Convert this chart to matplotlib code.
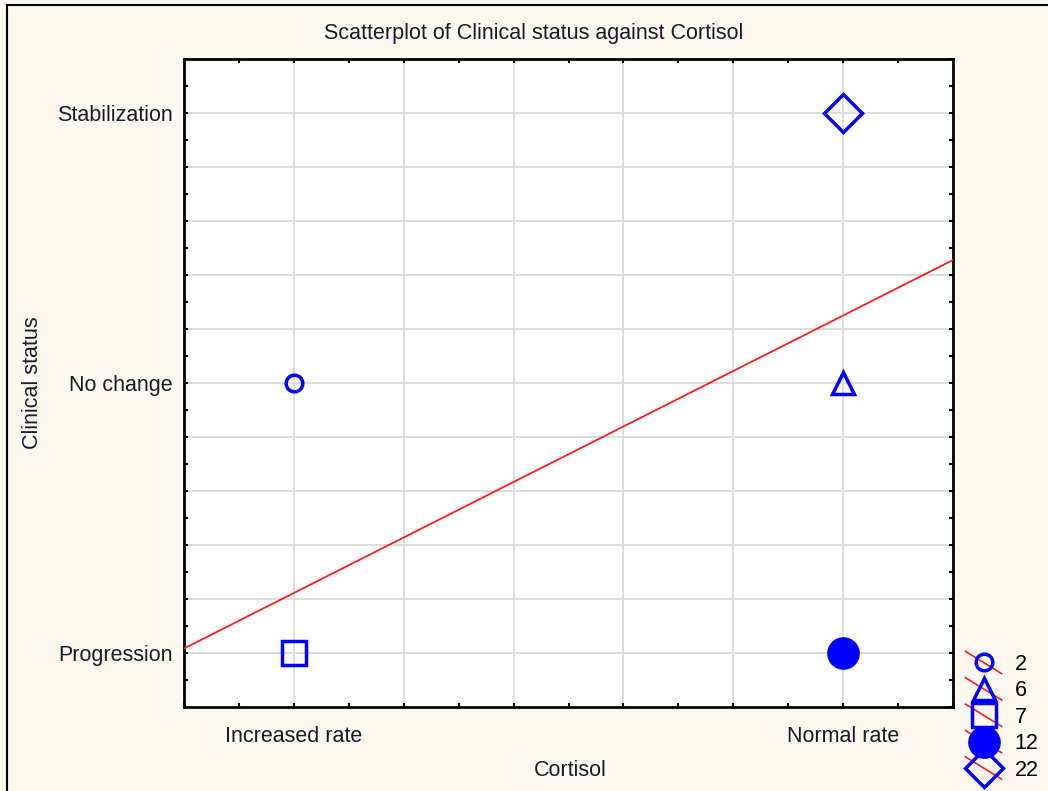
import numpy as np
import matplotlib
matplotlib.use('Agg')
import matplotlib.pyplot as plt
from matplotlib.lines import Line2D
from matplotlib.legend_handler import HandlerBase
from matplotlib.ticker import MultipleLocator

# categories
cortisol_labels = ['Increased rate', 'Normal rate']
status_labels = ['Progression', 'No change', 'Stabilization']

# observed combinations (cortisol index, clinical status level) and their counts
point_x = [0, 1, 0, 1, 1]
point_y = [2, 2, 1, 1, 3]
counts = [2, 6, 7, 12, 22]

# marker styles per point
markers = ['o', '^', 's', 'o', 'D']
sizes = [12, 16.5, 17, 21, 19.5]
filled = [False, False, False, True, False]

BLUE = '#0000FF'
RED = '#F52020'
BG = '#FDF9F1'
FS = 15.5


class SlashHandler(HandlerBase):
    """Statistica-style legend key: marker with a red slash through it."""
    def create_artists(self, legend, orig_handle, xdescent, ydescent,
                       width, height, fontsize, trans):
        cx = width / 2 - xdescent
        cy = height / 2 - ydescent
        slash = Line2D([cx - 13, cx + 13], [cy + 8, cy - 8], color=RED, lw=1.2,
                       transform=trans)
        mk = Line2D([cx], [cy], marker=orig_handle.get_marker(),
                    markersize=orig_handle.get_markersize(),
                    markerfacecolor=orig_handle.get_markerfacecolor(),
                    markeredgecolor=BLUE, markeredgewidth=2.5, linestyle='none',
                    transform=trans)
        return [slash, mk]


def make_plot():
    plt.rcParams['font.family'] = ['Liberation Sans', 'DejaVu Sans']

    fig = plt.figure(figsize=(10.48, 7.91), dpi=100)
    fig.patch.set_facecolor(BG)
    ax = fig.add_axes([184 / 1048, 1 - 707 / 791, 769 / 1048, 648 / 791])
    ax.set_facecolor('white')

    # --- points ---
    handles = []
    for x, y, m, s, f in zip(point_x, point_y, markers, sizes, filled):
        h, = ax.plot([x], [y], marker=m, markersize=s, linestyle='none',
                     markerfacecolor=BLUE if f else 'none',
                     markeredgecolor=BLUE, markeredgewidth=2.5, zorder=4)
        handles.append(h)

    # --- weighted linear fit ---
    xs = np.repeat(point_x, counts)
    ys = np.repeat(point_y, counts)
    slope, intercept = np.polyfit(xs, ys, 1)
    xl = np.array([-0.2, 1.2])
    ax.plot(xl, intercept + slope * xl, color=RED, lw=1.3, zorder=3)

    ax.set_xlim(-0.2, 1.2)
    ax.set_ylim(0.8, 3.2)
    ax.set_xticks([0, 1])
    ax.set_xticklabels(cortisol_labels, fontsize=FS)
    ax.set_yticks([1, 2, 3])
    ax.set_yticklabels(status_labels, fontsize=FS)

    # grid every 0.2, small inside ticks every 0.1
    for v in np.arange(0.0, 1.01, 0.2):
        ax.axvline(v, color='#DADADA', lw=1.3, zorder=1)
    for v in np.arange(1.0, 3.01, 0.2):
        ax.axhline(v, color='#DADADA', lw=1.3, zorder=1)
    ax.xaxis.set_minor_locator(MultipleLocator(0.1))
    ax.yaxis.set_minor_locator(MultipleLocator(0.1))
    ax.tick_params(which='both', direction='in', top=True, right=True,
                   length=3, width=1.5, color='black')
    ax.tick_params(which='major', labelcolor='#1a1a2a')
    ax.tick_params(axis='x', which='major', pad=14)
    ax.tick_params(axis='y', which='major', pad=8)

    for sp in ax.spines.values():
        sp.set_linewidth(2)
        sp.set_color('black')

    ax.set_xlabel('Cortisol', fontsize=FS, va='center', color='#1a1a2a')
    ax.xaxis.set_label_coords(0.502, (707 - 770) / 648)
    ax.set_ylabel('Clinical status', fontsize=FS, va='center', color='#1a1a2a')
    ax.yaxis.set_label_coords((33 - 184) / 769, 0.5)
    fig.text(534 / 1048, 1 - 33 / 791, 'Scatterplot of Clinical status against Cortisol',
             ha='center', va='center', fontsize=FS, color='#1a1a2a')

    # --- legend with counts ---
    ax.legend(handles, [str(c) for c in counts], handler_map={Line2D: SlashHandler()},
              loc='upper left', bbox_to_anchor=(962 / 1048, 1 - 654 / 791),
              bbox_transform=fig.transFigure, frameon=False, fontsize=FS,
              handlelength=2.0, handletextpad=0.45, labelspacing=0.25,
              borderpad=0, borderaxespad=0)

    # outer frame (top and left edges visible)
    fig.add_artist(Line2D([7 / 1048, 7 / 1048], [0, 1 - 5 / 791], color='black',
                          lw=1.5, transform=fig.transFigure))
    fig.add_artist(Line2D([7 / 1048, 1], [1 - 5 / 791, 1 - 5 / 791], color='black',
                          lw=1.5, transform=fig.transFigure))

    fig.savefig('out.png', dpi=100, facecolor=fig.get_facecolor())
    plt.close(fig)


if __name__ == '__main__':
    make_plot()
